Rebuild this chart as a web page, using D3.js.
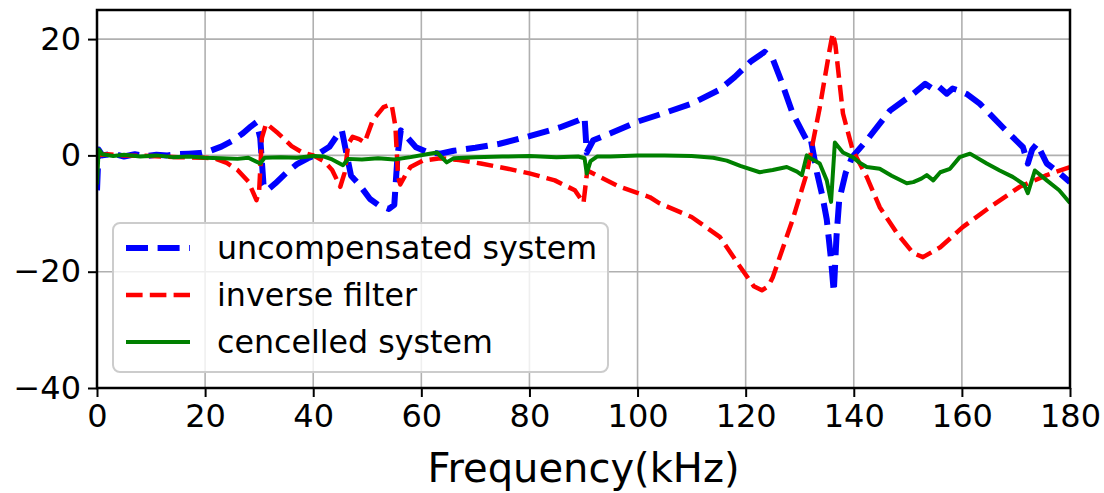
<!DOCTYPE html>
<html>
<head>
<meta charset="utf-8">
<script src="https://cdn.jsdelivr.net/npm/d3@7"></script>
<style>
  html, body { margin: 0; padding: 0; background: #fff; }
  svg { display: block; font-family: "DejaVu Sans", sans-serif; }
</style>
</head>
<body>
<div id="chart"></div>
<script>
// frequency (kHz) / gain (dB)
const uncompF = [0,0.3,1,3,5,7,9,11,13,15,17,19,21,23,25,27,28.5,29.5,30.2,30.8,31.5,33,35,37,39,41,43,44.5,45.3,46,47,48.5,50.5,52,54,55,55.6,56.2,57.5,59,61,63.5,66,70,74.5,80,85.6,89,90.2,90.6,91.8,95,100,105,110,115,118,121,123.5,125,126.5,128.7,130.5,131.3,132,133.2,134.2,135,135.8,136.3,136.8,137.3,138.5,139.7,142.4,146.7,151,153.2,154.5,155.5,157.2,158.3,159.6,161,163.3,167.6,171.3,172.2,173,173.9,175.7,178,180];
const uncompDb = [-6,1,0,0.3,-0.2,0.2,-0.1,0.1,0,0.2,0.3,0.4,0.8,1.5,2.5,3.8,5,5.7,3,-5,-6,-4.8,-3,-1.5,-0.5,0.3,1.5,3.5,4.3,1,-3.5,-5,-7.5,-8.5,-9.2,-8.5,0,4.3,3,1.4,0.6,0.3,0.8,1.3,2,3.3,4.8,6,6.5,0.5,2.6,3.8,5.8,7.3,8.9,11.2,13.5,16.2,17.8,16.6,13,7.2,4,2.6,3,-3,-7,-11,-18,-23.5,-14,-7.7,-3,-0.3,2.6,7.7,10.6,12.3,11.5,12,10.6,11.5,11.1,10.5,8.9,4.8,1.4,-1.4,1,2,-1.4,-3,-4.6];

const inverseF = [0,2,5,10,15,20,22,24,26,28,29.5,30,30.5,31.3,33.5,36,38,40,42,43.5,45,45.8,46.5,47.3,48.5,49.5,51,53,54.5,55.2,55.7,56.1,57,58,60.3,63.5,67,71,76,80,84.7,88.4,90,90.4,90.7,93,96.7,102.3,104,110,115.2,119,121.5,123,124.2,125,128.7,131.3,133.7,135.5,136.1,136.6,138,139.8,142.4,144.8,148,151,152.8,156,160.2,165.2,170.7,175.7,180];
const inverseDb = [0,0.2,0,-0.1,-0.3,-0.4,-0.6,-1.3,-2.5,-4.5,-7.7,-6,3,5.5,3.8,1.6,0.5,0,-1,-2.5,-5.4,-3,2,3.2,2.8,2.2,6,8.3,8.8,5,-3.7,-5,-3.5,-2,-0.9,-0.5,-0.8,-1.4,-2.3,-3.1,-4.3,-6,-8.2,-5,-2.6,-3.7,-5.4,-7.2,-8.2,-10.6,-14,-19.2,-22.5,-23.2,-22.5,-21,-11,-3.1,8.2,18,21,19,7.2,0.9,-3.7,-8.9,-13.4,-16.8,-17.5,-15.8,-12.3,-8.9,-5.4,-3.4,-2];

const cancelF = [0,0.3,1,3,5,8,11,14,17,20,23,26,28,30.2,31,34,37,40,42,43.5,45.5,46.5,49,52,55,58,61,62.9,64.7,66,70,75,80,85,89,90.2,90.6,91.3,92.5,95,100,105,110,114,116.5,119,122.6,125,127.6,129.5,130.4,131.3,132,133.7,135,135.8,136.5,137.2,138,139.8,141,142.4,144.8,147,149.8,151,152.5,153.5,154.7,156,157.8,159.6,161.5,164.6,167,169.4,171.5,172.2,173.5,175.7,178,180];
const cancelDb = [-5,1,0.2,-0.1,0.1,-0.2,0,-0.3,-0.2,-0.4,-0.5,-0.6,-0.4,-1.4,-0.4,-0.3,-0.4,-0.1,-0.2,-0.7,-1.7,-0.6,-0.7,-0.5,-0.7,-0.3,0.2,0.5,-1.2,-0.5,-0.3,-0.2,-0.1,-0.3,-0.2,-0.5,-3.1,-1,-0.2,-0.2,0,0,-0.1,-0.4,-0.9,-1.8,-2.9,-2.5,-2,-2.8,-3.4,0,-0.5,-1.4,-4.3,-8,2.2,1.4,0.5,-0.3,-1.2,-2,-2.3,-3.5,-4.8,-4.6,-4,-3.4,-4.3,-2.9,-2.3,-0.3,0.3,-1.4,-2.6,-3.7,-5,-6.5,-2.6,-4.3,-6,-8.2];

const xTicks = [0, 20, 40, 60, 80, 100, 120, 140, 160, 180];
const yTicks = [-40, -20, 0, 20];
const seriesNames = ["uncompensated system", "inverse filter", "cencelled system"];

const W = 1104, H = 493;
const margin = { left: 97, right: 34, top: 10, bottom: 105 };

const svg = d3.select("#chart").append("svg")
  .attr("width", W).attr("height", H);

const x = d3.scaleLinear().domain([0, 180]).range([margin.left, W - margin.right]);
const y = d3.scaleLinear().domain([-40, 25]).range([H - margin.bottom, margin.top]);

// grid
svg.append("g").selectAll("line").data(xTicks).join("line")
  .attr("x1", d => x(d)).attr("x2", d => x(d))
  .attr("y1", y(25)).attr("y2", y(-40))
  .attr("stroke", "#b0b0b0").attr("stroke-width", 1.6);
svg.append("g").selectAll("line").data(yTicks).join("line")
  .attr("x1", x(0)).attr("x2", x(180))
  .attr("y1", d => y(d)).attr("y2", d => y(d))
  .attr("stroke", "#b0b0b0").attr("stroke-width", 1.6);

svg.append("clipPath").attr("id", "plot-clip")
  .append("rect")
  .attr("x", x(0)).attr("y", y(25))
  .attr("width", x(180) - x(0)).attr("height", y(-40) - y(25));

const series = [
  { name: seriesNames[0], f: uncompF, v: uncompDb, color: "#0000ff", width: 6, dash: "22,9.6" },
  { name: seriesNames[1], f: inverseF, v: inverseDb, color: "#ff0000", width: 4.5, dash: "16.6,7.2" },
  { name: seriesNames[2], f: cancelF, v: cancelDb, color: "#008000", width: 4, dash: null }
];

const line = d3.line().x(d => x(d[0])).y(d => y(d[1]));

const plot = svg.append("g").attr("clip-path", "url(#plot-clip)");
series.forEach(s => {
  plot.append("path")
    .datum(s.f.map((f, i) => [f, s.v[i]]))
    .attr("d", line)
    .attr("fill", "none")
    .attr("stroke", s.color)
    .attr("stroke-width", s.width)
    .attr("stroke-linejoin", "round")
    .attr("stroke-dasharray", s.dash);
});

// axes
const xAxis = svg.append("g")
  .attr("transform", `translate(0,${y(-40)})`)
  .call(d3.axisBottom(x).tickValues(xTicks).tickSize(9).tickPadding(7));
const yAxis = svg.append("g")
  .attr("transform", `translate(${x(0)},0)`)
  .call(d3.axisLeft(y).tickValues(yTicks).tickSize(9).tickPadding(7));
[xAxis, yAxis].forEach(a => {
  a.select(".domain").remove();
  a.selectAll(".tick line").attr("stroke", "#000").attr("stroke-width", 2);
  a.selectAll(".tick text").attr("fill", "#000")
    .style("font-size", "32px").style("font-family", "DejaVu Sans");
});

// frame
svg.append("rect")
  .attr("x", x(0)).attr("y", y(25))
  .attr("width", x(180) - x(0)).attr("height", y(-40) - y(25))
  .attr("fill", "none").attr("stroke", "#000").attr("stroke-width", 2.5);

svg.append("text")
  .attr("x", (x(0) + x(180)) / 2).attr("y", 482)
  .attr("text-anchor", "middle")
  .style("font-size", "40px")
  .text("Frequency(kHz)");

// legend
const lg = svg.append("g").attr("transform", "translate(113,223)");
lg.append("rect")
  .attr("width", 495).attr("height", 149).attr("rx", 7)
  .attr("fill", "#fff").attr("fill-opacity", 0.8)
  .attr("stroke", "#cccccc").attr("stroke-width", 2);
series.forEach((s, i) => {
  const cy = 25 + i * 47;
  lg.append("line")
    .attr("x1", 13).attr("x2", 77).attr("y1", cy).attr("y2", cy)
    .attr("stroke", s.color).attr("stroke-width", s.width)
    .attr("stroke-dasharray", s.dash);
  lg.append("text")
    .attr("x", 104).attr("y", cy + 11)
    .style("font-size", "31.7px")
    .text(s.name);
});
</script>
</body>
</html>
